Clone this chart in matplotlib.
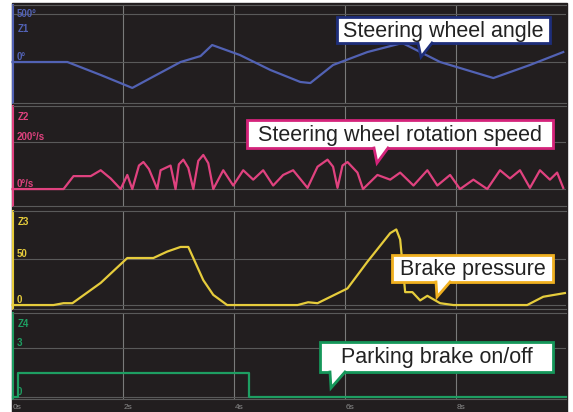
import matplotlib.pyplot as plt
from matplotlib.patches import Rectangle, Polygon

plt.rcParams['font.family'] = ['Liberation Sans', 'DejaVu Sans']

# --- data ---
# Z1: steering wheel angle (deg)
angle_t = [0, 0.99, 1.59, 2.16, 2.49, 3.03, 3.39, 3.6, 4.1, 4.65, 5.19, 5.37,
           5.78, 6.4, 7.03, 7.71, 8.67, 9.33, 9.93]
angle_v = [0, 0, -135, -270, -167, 0, 62, 177, 73, -83, -208, -219,
           -31, 104, 198, 0, -167, -31, 104]

# Z2: steering wheel rotation speed (deg/s)
speed_t = [0, 0.92, 1.1, 1.41, 1.59, 1.77, 1.95, 2.07, 2.16, 2.28, 2.36, 2.46, 2.54, 2.61,
           2.67, 2.85, 2.94, 3.0, 3.08, 3.17, 3.26, 3.35, 3.44, 3.53, 3.62, 3.8, 3.98, 4.16, 4.34,
           4.52, 4.7, 4.88, 5.06, 5.32, 5.5, 5.68, 5.78, 5.86, 5.95, 6.04, 6.22, 6.32, 6.58,
           6.81, 6.99, 7.23, 7.48, 7.66, 7.89, 8.07, 8.31, 8.56, 8.79, 8.97,
           9.15, 9.33, 9.51, 9.69, 9.82, 9.93]
speed_v = [0, 0, 55, 55, 80, 45, 0, 60, 0, 100, 115, 85, 40, 0,
           80, 100, 0, 105, 125, 90, 0, 120, 145, 110, 0, 80, 15, 80, 40,
           80, 15, 60, 80, 5, 95, 125, 95, 5, 100, 115, 70, 0, 60,
           40, 70, 15, 80, 15, 60, 0, 40, 0, 80, 45,
           80, 5, 80, 40, 70, 5]

# Z3: brake pressure
press_t = [0, 0.74, 0.92, 1.08, 1.59, 2.07, 2.54, 2.79, 3.03, 3.17, 3.26, 3.44,
           3.62, 3.87, 5.14, 5.33, 5.5, 6.04, 6.4, 6.81, 6.92, 6.99, 7.08,
           7.21, 7.35, 7.48, 7.71, 7.95, 9.28, 9.57, 9.96]
press_v = [0, 0, 2, 2, 24, 51, 51, 58, 63, 63, 51, 27,
           11, 0, 0, 3, 2, 18, 47, 78, 82, 71, 14,
           14, 5, 10, 2, 0, 0, 9, 13]

# Z4: parking brake on/off
park_t = [0, 0.1, 0.1, 4.26, 4.26, 9.98]
park_v = [0, 0, 1.5, 1.5, 0, 0]

time_ticks = [0, 2, 4, 6, 8]
time_labels = ['0s', '2s', '4s', '6s', '8s']

BG = '#221e1f'
W, H = 573, 412

fig = plt.figure(figsize=(W / 100, H / 100), dpi=100, facecolor='white')
fig.add_artist(Rectangle((12 / W, 0), (567 - 12) / W, (412 - 3) / H,
                         transform=fig.transFigure, color=BG, zorder=0))


def px_axes(left, top, right, bottom):
    return fig.add_axes([left / W, 1 - bottom / H, (right - left) / W, (bottom - top) / H])


panels = [
    dict(name='Z1', t=angle_t, v=angle_v, color='#5262b4', ylim=(-427, 594),
         ticks=[0, 500], labels=['0°', '500°'], top=5, bottom=103, name_y=0.76),
    dict(name='Z2', t=speed_t, v=speed_v, color='#e0427f', ylim=(-72, 353),
         ticks=[0, 200], labels=['0°/s', '200°/s'], top=106, bottom=206, name_y=0.89),
    dict(name='Z3', t=press_t, v=press_v, color='#e6cc3c', ylim=(-4.3, 102),
         ticks=[0, 50], labels=['0', '50'], top=211, bottom=309, name_y=0.89),
    dict(name='Z4', t=park_t, v=park_v, color='#1e9e62', ylim=(-0.12, 5.14),
         ticks=[0, 3], labels=['0', '3'], top=313, bottom=399, name_y=0.87),
]

for i, p in enumerate(panels):
    ax = px_axes(12.5, p['top'], 566, p['bottom'])
    ax.set_facecolor('none')
    ax.set_xlim(0, 9.98)
    ax.set_ylim(*p['ylim'])
    for s in ['top', 'bottom']:
        ax.spines[s].set_color('#5a5a5a')
    ax.spines['right'].set_visible(False)
    ax.spines['left'].set_color(p['color'])
    ax.spines['left'].set_linewidth(1.5)
    ax.tick_params(left=False, bottom=False, labelleft=False, labelbottom=False)
    for x in time_ticks[1:]:
        ax.axvline(x, color='#7a7a7a', lw=0.8, zorder=1)
    for tk, lab in zip(p['ticks'], p['labels']):
        ax.axhline(tk, color='#5a5a5a', lw=0.8, zorder=1)
        top_label = (p['name'] == 'Z1' and tk == 500)
        ax.text(0.08, tk, lab, color=p['color'], fontsize=7, fontweight='bold',
                va='center' if top_label else 'bottom', ha='left', zorder=3)
    ax.text(0.01, p['name_y'], p['name'], transform=ax.transAxes, color=p['color'],
            fontsize=7, fontweight='bold', va='center', ha='left')
    ax.plot(p['t'], p['v'], color=p['color'], lw=1.6, zorder=2, clip_on=False,
            solid_joinstyle='round')
    if i == len(panels) - 1:
        for x, lab in zip(time_ticks, time_labels):
            ax.text(x, -0.1, lab, transform=ax.get_xaxis_transform(), color='#8a8a8a',
                    fontsize=6, ha='left', va='center')

# callouts drawn in pixel coordinates of the figure
ov = fig.add_axes([0, 0, 1, 1])
ov.set_xlim(0, W)
ov.set_ylim(H, 0)
ov.axis('off')


def callout(x0, y0, x1, y1, base, tip, text, color):
    ov.add_patch(Rectangle((x0, y0), x1 - x0, y1 - y0, facecolor='white',
                           edgecolor=color, lw=2, zorder=5))
    ov.add_patch(Polygon([(base[0], y1 - 1.5), (base[1], y1 - 1.5), tip],
                         closed=True, facecolor='white', edgecolor='none', zorder=6))
    ov.plot([base[0], tip[0], base[1]], [y1, tip[1], y1], color=color, lw=2,
            zorder=6, solid_joinstyle='miter')
    ov.text((x0 + x1) / 2, (y0 + y1) / 2 + 1, text, fontsize=15.5, color='#222222',
            ha='center', va='center', zorder=7)


callout(337, 17, 550, 43, (418, 432), (421, 57), 'Steering wheel angle', '#1e2e7a')
callout(247, 120, 553, 148, (374, 388), (377, 163), 'Steering wheel rotation speed', '#d4237a')
callout(392, 255, 553, 282, (436, 450), (437, 297), 'Brake pressure', '#f0b020')
callout(320, 342, 553, 372, (330, 345), (331, 388), 'Parking brake on/off', '#15975a')

fig.savefig('out.png', dpi=100, facecolor='white')
